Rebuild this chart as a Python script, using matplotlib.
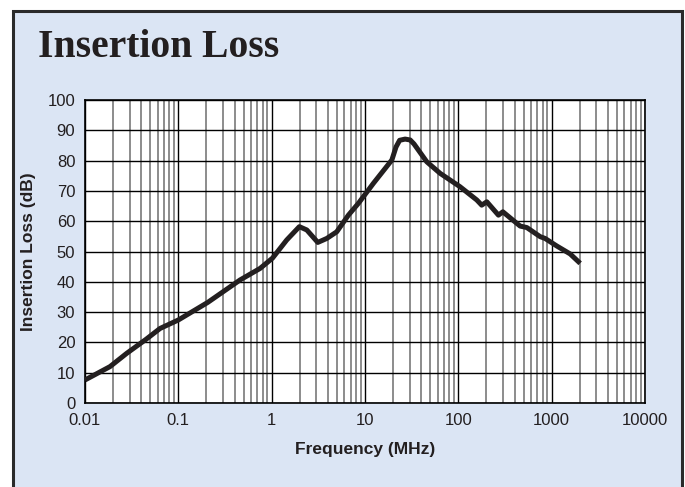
import matplotlib
matplotlib.use('Agg')
import matplotlib.pyplot as plt
import matplotlib.patches as patches
from matplotlib.ticker import LogLocator, FixedLocator, NullFormatter

# insertion loss curve
freq_mhz = [0.01, 0.0185, 0.028, 0.045, 0.0637, 0.1, 0.2066, 0.458, 0.75, 1.02,
            1.45, 1.98, 2.38, 3.12, 3.89, 4.98, 6.64, 8.5, 12.3, 19.4,
            21.5, 23.5, 26.9, 30.5, 33.5, 45.9, 63.8, 104, 157.7, 178,
            202, 269, 300, 459, 542, 753, 851, 1137, 1578, 2020]
loss_db = [7.6, 12.0, 16.4, 21.0, 24.6, 27.4, 33.2, 40.6, 44.4, 47.8,
           53.8, 58.2, 57.1, 53.0, 54.3, 56.5, 62.0, 65.9, 72.5, 80.2,
           84.5, 86.7, 87.1, 86.8, 85.5, 79.6, 75.8, 71.4, 67.0, 65.3,
           66.4, 62.0, 63.1, 58.4, 57.9, 54.9, 54.3, 51.8, 49.2, 46.1]

x_ticks = [0.01, 0.1, 1, 10, 100, 1000, 10000]
x_labels = ['0.01', '0.1', '1', '10', '100', '1000', '10000']
y_ticks = list(range(0, 101, 10))

bg = '#dbe5f4'
ink = '#231f20'

fig = plt.figure(figsize=(6.85, 4.87), dpi=100)
fig.patch.set_facecolor('white')

# blue panel with dark frame, kept behind the axes
frame = patches.Rectangle((13/685, -0.02), (682-13)/685, 1 - 11/487 + 0.02,
                          transform=fig.transFigure, facecolor=bg,
                          edgecolor='#2a2a2a', linewidth=2.2, zorder=-5)
fig.patches.append(frame)

fig.text(38/685, 1 - 57/487, 'Insertion Loss', fontsize=28.5, fontweight='bold',
         family='Liberation Serif', color=ink, ha='left', va='baseline')

ax = fig.add_axes([85/685, (487-403)/487, 560/685, 303/487])
ax.set_facecolor('white')
ax.plot(freq_mhz, loss_db, color=ink, linewidth=3.6, solid_joinstyle='round',
        solid_capstyle='butt', zorder=5)

ax.set_xscale('log')
ax.set_xlim(0.01, 10000)
ax.set_ylim(0, 100)
ax.xaxis.set_major_locator(FixedLocator(x_ticks))
ax.xaxis.set_minor_locator(LogLocator(base=10, subs=range(2, 10), numticks=20))
ax.xaxis.set_minor_formatter(NullFormatter())
ax.set_xticks(x_ticks)
ax.set_xticklabels(x_labels)
ax.set_yticks(y_ticks)

ax.grid(True, which='major', color='black', linewidth=1.0)
ax.grid(True, which='minor', axis='x', color='#6e6e6e', linewidth=1.1)
ax.tick_params(which='both', length=0, labelsize=12, colors=ink, pad=7)
for lab in ax.get_xticklabels() + ax.get_yticklabels():
    lab.set_family('Liberation Sans')
for s in ax.spines.values():
    s.set_color('black')
    s.set_linewidth(1.2)

ax.set_xlabel('Frequency (MHz)', fontsize=12.5, fontweight='bold',
              family='Liberation Sans', color=ink, labelpad=10)
ax.set_ylabel('Insertion Loss (dB)', fontsize=12.5, fontweight='bold',
              family='Liberation Sans', color=ink, labelpad=8)

fig.savefig('out.png', dpi=100, facecolor=fig.get_facecolor())
